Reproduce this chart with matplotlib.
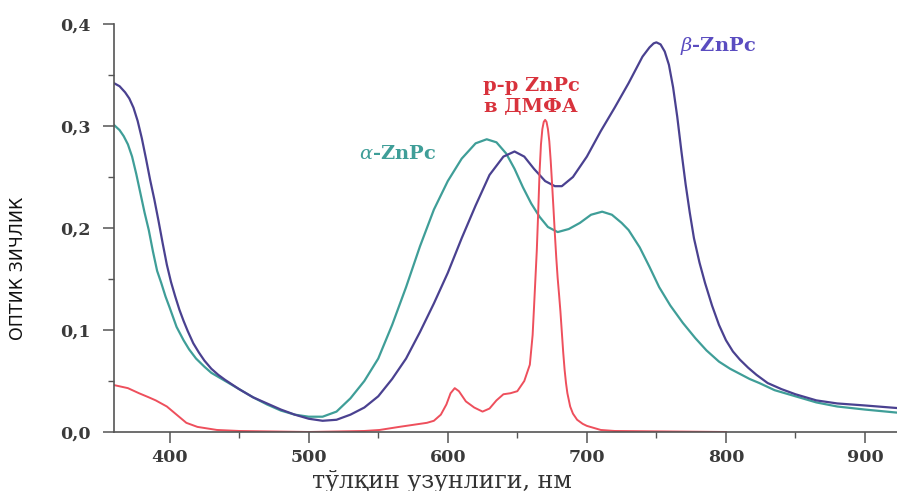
import matplotlib
matplotlib.use("Agg")
import matplotlib.pyplot as plt
from matplotlib.ticker import FixedLocator, FixedFormatter

plt.rcParams["mathtext.fontset"] = "dejavuserif"

# ---- data ----
beta_x = [360, 364, 368, 371, 374, 377, 380, 383, 386, 389, 392, 395, 398, 401, 404, 407,
          410, 413, 417, 421, 425, 430, 435, 440, 450, 460, 470, 480, 490, 500, 510, 520,
          530, 540, 550, 560, 570, 580, 590, 600, 610, 620, 630, 640, 648, 655, 662, 670,
          677, 682, 690, 700, 710, 720, 730, 740, 745, 748, 750, 753, 756, 759, 762, 765,
          768, 771, 774, 777, 781, 785, 790, 795, 800, 805, 810, 816, 822, 830, 840, 850,
          865, 880, 900, 923]
beta_y = [0.342, 0.339, 0.333, 0.327, 0.318, 0.305, 0.288, 0.268, 0.247, 0.228, 0.207, 0.185,
          0.164, 0.147, 0.133, 0.120, 0.109, 0.099, 0.087, 0.078, 0.070, 0.062, 0.056, 0.051,
          0.042, 0.034, 0.028, 0.022, 0.017, 0.013, 0.011, 0.012, 0.017, 0.024, 0.035, 0.052,
          0.072, 0.098, 0.126, 0.156, 0.190, 0.222, 0.252, 0.270, 0.275, 0.270, 0.258, 0.246,
          0.241, 0.241, 0.250, 0.270, 0.295, 0.318, 0.342, 0.368, 0.377, 0.381, 0.382, 0.380,
          0.373, 0.360, 0.338, 0.309, 0.275, 0.243, 0.215, 0.190, 0.166, 0.146, 0.124, 0.105,
          0.090, 0.079, 0.071, 0.063, 0.056, 0.048, 0.042, 0.037, 0.031, 0.028, 0.026, 0.0235]

alpha_x = [360, 364, 367, 370, 373, 376, 379, 382, 385, 388, 391, 394, 397, 400, 405, 410,
           414, 419, 425, 430, 440, 450, 460, 470, 480, 490, 500, 510, 520, 530, 540, 550,
           560, 570, 580, 590, 600, 610, 620, 628, 635, 642, 648, 654, 660, 666, 672, 679,
           687, 695, 703, 711, 718, 725, 730, 738, 745, 752, 760, 769, 778, 786, 795, 803,
           810, 817, 824, 835, 850, 865, 880, 900, 923]
alpha_y = [0.301, 0.296, 0.290, 0.282, 0.270, 0.253, 0.234, 0.215, 0.198, 0.177, 0.158, 0.146,
           0.133, 0.122, 0.103, 0.090, 0.081, 0.072, 0.064, 0.058, 0.050, 0.042, 0.034, 0.027,
           0.021, 0.017, 0.015, 0.015, 0.020, 0.033, 0.050, 0.072, 0.105, 0.142, 0.182, 0.218,
           0.246, 0.268, 0.283, 0.287, 0.284, 0.273, 0.258, 0.240, 0.224, 0.211, 0.201, 0.196,
           0.199, 0.205, 0.213, 0.216, 0.213, 0.205, 0.198, 0.181, 0.162, 0.142, 0.124, 0.107,
           0.092, 0.080, 0.069, 0.062, 0.057, 0.052, 0.048, 0.041, 0.035, 0.029, 0.025, 0.022,
           0.019]

sol_x = [360, 370, 378, 385, 390, 398, 405, 412, 420, 434, 450, 500, 540, 551, 565, 575, 585,
         590, 595, 599, 602, 605, 608, 613, 619, 625, 630, 635, 640, 645, 650, 655, 659, 661,
         662, 663, 664, 665, 666, 667, 668, 669, 670, 671, 672, 673, 674, 675, 676, 677, 678,
         679, 680, 681, 682, 683, 684, 685, 686, 688, 690, 693, 697, 700, 710, 720, 800]
sol_y = [0.046, 0.043, 0.038, 0.034, 0.031, 0.025, 0.017, 0.009, 0.005, 0.002, 0.001, 0.000,
         0.001, 0.002, 0.005, 0.007, 0.009, 0.011, 0.017, 0.027, 0.038, 0.043, 0.040, 0.030,
         0.024, 0.020, 0.023, 0.031, 0.037, 0.038, 0.040, 0.050, 0.066, 0.095, 0.122, 0.150,
         0.178, 0.215, 0.255, 0.282, 0.297, 0.304, 0.306, 0.304, 0.297, 0.285, 0.266, 0.243,
         0.219, 0.194, 0.171, 0.151, 0.135, 0.118, 0.098, 0.078, 0.061, 0.048, 0.038, 0.025,
         0.018, 0.012, 0.008, 0.006, 0.002, 0.001, 0.000]

xticks = [400, 500, 600, 700, 800, 900]
xtick_labels = ["400", "500", "600", "700", "800", "900"]
yticks = [0.0, 0.1, 0.2, 0.3, 0.4]
ytick_labels = ["0,0", "0,1", "0,2", "0,3", "0,4"]

# ---- figure ----
W, H = 897, 491
fig = plt.figure(figsize=(W / 100, H / 100), dpi=100)
ax = fig.add_axes([114 / W, 1 - 432 / H, (W - 114) / W, (432 - 24) / H])

c_beta = "#4a4190"
c_alpha = "#3f9e98"
c_sol = "#ee4f5c"

ax.plot(alpha_x, alpha_y, color=c_alpha, lw=1.6, solid_joinstyle="round")
ax.plot(beta_x, beta_y, color=c_beta, lw=1.6, solid_joinstyle="round")
ax.plot(sol_x, sol_y, color=c_sol, lw=1.4, solid_joinstyle="round")

ax.set_xlim(360, 923)
ax.set_ylim(0, 0.4)

for s in ["top", "right"]:
    ax.spines[s].set_visible(False)
for s in ["left", "bottom"]:
    ax.spines[s].set_color("#555555")
    ax.spines[s].set_linewidth(1.2)

ax.xaxis.set_major_locator(FixedLocator(xticks))
ax.xaxis.set_major_formatter(FixedFormatter(xtick_labels))
ax.yaxis.set_major_locator(FixedLocator(yticks))
ax.yaxis.set_major_formatter(FixedFormatter(ytick_labels))
ax.xaxis.set_minor_locator(FixedLocator([450, 550, 650, 750, 850]))
ax.yaxis.set_minor_locator(FixedLocator([0.05, 0.15, 0.25, 0.35]))

ax.tick_params(which="major", direction="out", length=8, width=1.1, color="#555555",
               labelsize=12.5, labelcolor="#3a3a3a", pad=4)
ax.tick_params(which="minor", direction="out", length=4, width=1.0, color="#555555")
for lab in ax.get_xticklabels() + ax.get_yticklabels():
    lab.set_fontfamily("DejaVu Serif")
    lab.set_fontweight("bold")
ax.tick_params(axis="y", pad=9)

ax.set_xlabel("тўлқин узунлиги, нм", fontfamily="DejaVu Serif", fontsize=17,
              color="#333333")
ax.xaxis.set_label_coords(0.419, -0.092)
ax.set_ylabel("ОПТИК ЗИЧЛИК", family=["Liberation Sans Narrow", "DejaVu Sans"], fontsize=12.5,
              color="#111111")
ax.yaxis.set_label_coords(-0.111, 0.40)

ax.text(536, 0.273, "$\\alpha$-ZnPc", color=c_alpha, fontsize=14, fontweight="bold",
        fontfamily="DejaVu Serif", va="center", ha="left")
ax.text(767, 0.378, "$\\beta$-ZnPc", color="#5a4cc0", fontsize=14, fontweight="bold",
        fontfamily="DejaVu Serif", va="center", ha="left")
ax.text(660, 0.339, "р-р ZnPc", color="#d8323c", fontsize=14, fontweight="bold",
        fontfamily="DejaVu Serif", va="center", ha="center")
ax.text(660, 0.319, "в ДМФА", color="#d8323c", fontsize=14, fontweight="bold",
        fontfamily="DejaVu Serif", va="center", ha="center")

fig.savefig("out.png", dpi=100)
